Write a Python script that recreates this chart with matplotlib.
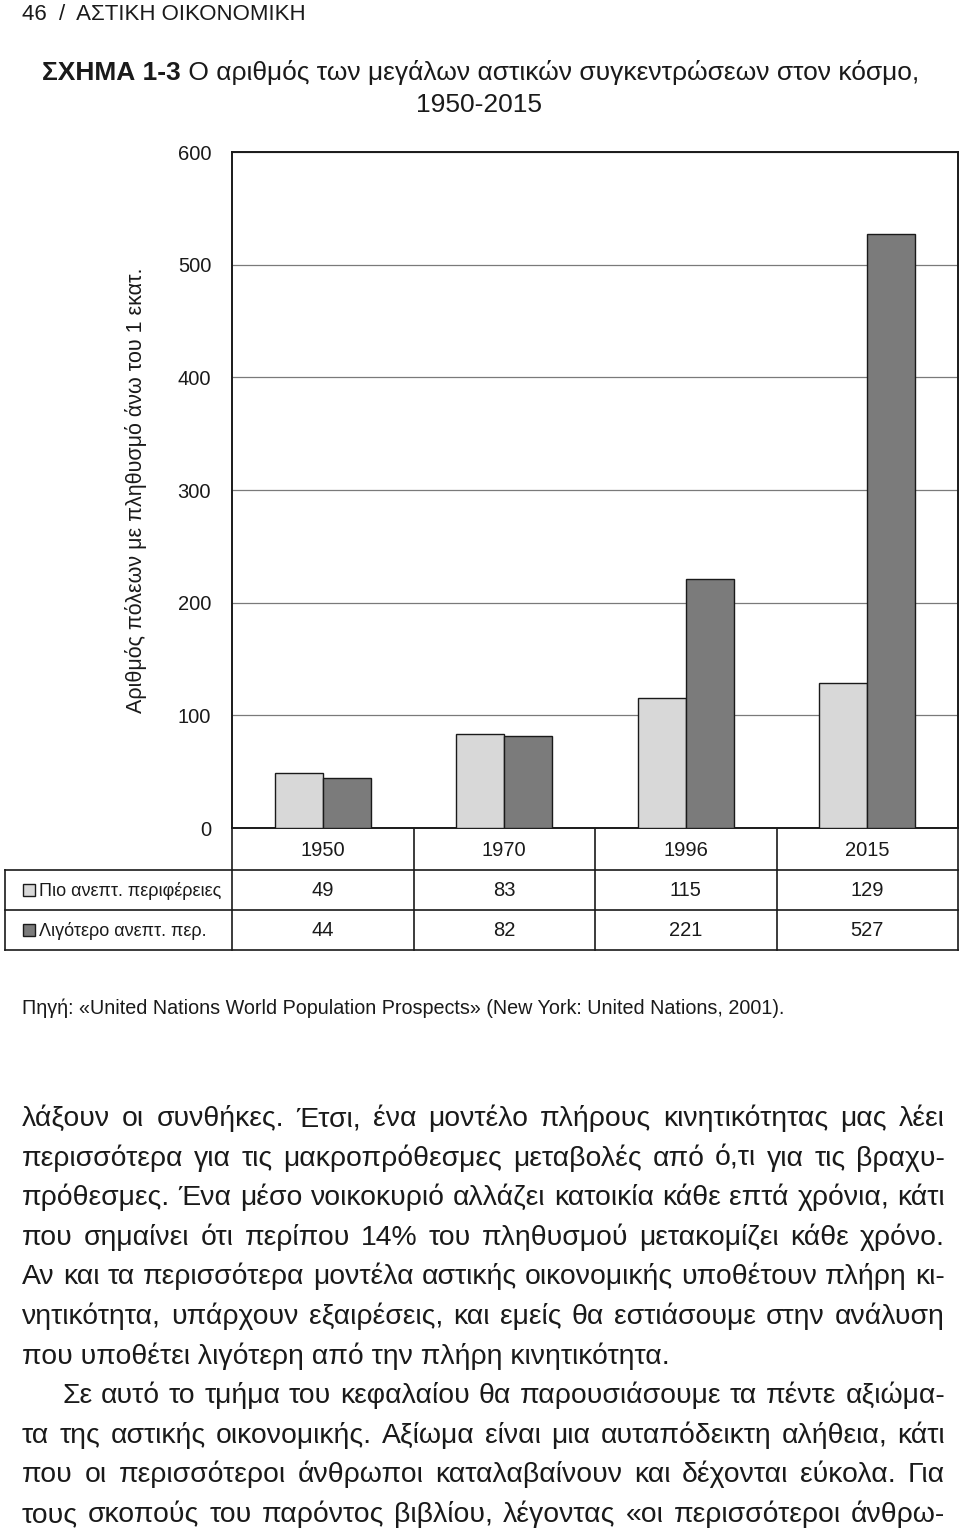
import numpy as np
import matplotlib
matplotlib.use('Agg')
import matplotlib.pyplot as plt
from matplotlib import font_manager

# --- data -------------------------------------------------------------
years = ['1950', '1970', '1996', '2015']
more_dev = [49, 83, 115, 129]      # Πιο ανεπτ. περιφέρειες
less_dev = [44, 82, 221, 527]      # Λιγότερο ανεπτ. περ.
series_names = ['Πιο ανεπτ. περιφέρειες', 'Λιγότερο ανεπτ. περ.']
yticks = [0, 100, 200, 300, 400, 500, 600]

header = '46  /  ΑΣΤΙΚΗ ΟΙΚΟΝΟΜΙΚΗ'
title_bold = 'ΣΧΗΜΑ 1-3'
title_rest = ' Ο αριθμός των μεγάλων αστικών συγκεντρώσεων στον κόσμο,'
title_line2 = '1950-2015'
ylabel = 'Αριθμός πόλεων με πληθυσμό άνω του 1 εκατ.'
source = 'Πηγή: «United Nations World Population Prospects» (New York: United Nations, 2001).'

body = [
    ('λάξουν οι συνθήκες.  Έτσι, ένα μοντέλο πλήρους κινητικότητας μας λέει', True, 0),
    ('περισσότερα για τις μακροπρόθεσμες μεταβολές από ό,τι για τις βραχυ-', True, 0),
    ('πρόθεσμες. Ένα μέσο νοικοκυριό αλλάζει κατοικία κάθε επτά χρόνια, κάτι', True, 0),
    ('που σημαίνει ότι περίπου 14% του πληθυσμού μετακομίζει κάθε χρόνο.', True, 0),
    ('Αν και τα περισσότερα μοντέλα αστικής οικονομικής υποθέτουν πλήρη κι-', True, 0),
    ('νητικότητα, υπάρχουν εξαιρέσεις, και εμείς θα εστιάσουμε στην ανάλυση', True, 0),
    ('που υποθέτει λιγότερη από την πλήρη κινητικότητα.', False, 0),
    ('Σε αυτό το τμήμα του κεφαλαίου θα παρουσιάσουμε τα πέντε αξιώμα-', True, 40),
    ('τα της αστικής οικονομικής. Αξίωμα είναι μια αυταπόδεικτη αλήθεια, κάτι', True, 0),
    ('που οι περισσότεροι άνθρωποι καταλαβαίνουν και δέχονται εύκολα. Για', True, 0),
    ('τους σκοπούς του παρόντος βιβλίου, λέγοντας «οι περισσότεροι άνθρω-', True, 0),
]

# --- fonts ------------------------------------------------------------
installed = {f.name for f in font_manager.fontManager.ttflist}
main_font = 'Liberation Sans'
narrow_font = 'Liberation Sans Narrow' if 'Liberation Sans Narrow' in installed else 'Liberation Sans'
plt.rcParams['font.family'] = [main_font, 'DejaVu Sans']

light = '#d8d8d8'
dark = '#7b7b7b'
ink = '#1a1a1a'

W, H = 960, 1532
fig = plt.figure(figsize=(W / 100, H / 100), dpi=100)
fig.patch.set_facecolor('white')

# page overlay in pixel coordinates
page = fig.add_axes([0, 0, 1, 1])
page.set_xlim(0, W)
page.set_ylim(H, 0)
page.axis('off')
r = fig.canvas.get_renderer()

# --- chart ------------------------------------------------------------
L, R, T, B = 232, 958, 152, 828
ax = fig.add_axes([L / W, 1 - B / H, (R - L) / W, (B - T) / H])
x = np.arange(len(years))
w = 0.265
ax.bar(x - w / 2, more_dev, w, color=light, edgecolor=ink, linewidth=1.0, zorder=3)
ax.bar(x + w / 2, less_dev, w, color=dark, edgecolor=ink, linewidth=1.0, zorder=3)
ax.set_xlim(-0.5, len(years) - 0.5)
ax.set_ylim(0, 600)
ax.set_yticks(yticks)
ax.set_yticklabels([str(t) for t in yticks], fontsize=14.5, color=ink)
ax.tick_params(axis='y', length=0, pad=15)
ax.set_xticks([])
ax.grid(axis='y', color='#7a7a7a', linewidth=0.9, zorder=0)
for s in ax.spines.values():
    s.set_color(ink)
    s.set_linewidth(1.4)
page.text(136, 490, ylabel, rotation=90, ha='center', va='center',
          fontsize=15.5, family=narrow_font, color=ink)

# --- data table under the chart ----------------------------------------
col_w = (R - L) / len(years)
rows_y = [B, 870, 910, 950]
lc = dict(color=ink, linewidth=1.2)
page.plot([L, L], [B, rows_y[-1]], **lc)
page.plot([R, R], [B, rows_y[-1]], **lc)
page.plot([5, 5], [rows_y[1], rows_y[-1]], **lc)
for i in range(1, len(years)):
    page.plot([L + i * col_w] * 2, [B, rows_y[-1]], **lc)
for yy in rows_y[1:]:
    page.plot([5, R], [yy, yy], **lc)
for i, yr in enumerate(years):
    cx = L + (i + 0.5) * col_w
    page.text(cx, (rows_y[0] + rows_y[1]) / 2 + 2, yr, ha='center', va='center',
              fontsize=14.5, family=narrow_font, color=ink)
    page.text(cx, (rows_y[1] + rows_y[2]) / 2 + 1, str(more_dev[i]), ha='center', va='center',
              fontsize=14.5, family=narrow_font, color=ink)
    page.text(cx, (rows_y[2] + rows_y[3]) / 2 + 1, str(less_dev[i]), ha='center', va='center',
              fontsize=14.5, family=narrow_font, color=ink)
for k, (name, col) in enumerate(zip(series_names, [light, dark])):
    cy = (rows_y[k + 1] + rows_y[k + 2]) / 2
    page.add_patch(plt.Rectangle((23, cy - 6), 12, 12, facecolor=col, edgecolor=ink, linewidth=1.0))
    page.text(39, cy + 1, name, ha='left', va='center', fontsize=13,
              family=narrow_font, color=ink)

# --- page texts -------------------------------------------------------
page.text(22, 20, header, ha='left', va='baseline', fontsize=16, color=ink)
tb = page.text(42, 80, title_bold, ha='left', va='baseline', fontsize=19,
               weight='bold', color=ink)
bw = tb.get_window_extent(r).width
page.text(42 + bw, 80, title_rest, ha='left', va='baseline', fontsize=19, color=ink)
page.text(479, 112, title_line2, ha='center', va='baseline', fontsize=19, color=ink)
page.text(22, 1014, source, ha='left', va='baseline', fontsize=14.2,
          family=narrow_font, color=ink)

x0, x1 = 22, 945
base0, step = 1126, 39.6
fs = 20.4
for n, (line, just, indent) in enumerate(body):
    yb = base0 + n * step
    if not just:
        page.text(x0 + indent, yb, line, ha='left', va='baseline', fontsize=fs, color=ink)
        continue
    words = line.split(' ')
    words = [wd for wd in words if wd]
    ts = [page.text(0, yb, wd, ha='left', va='baseline', fontsize=fs, color=ink) for wd in words]
    ws = [t.get_window_extent(r).width for t in ts]
    gap = (x1 - x0 - indent - sum(ws)) / (len(words) - 1)
    xx = x0 + indent
    for t, wd in zip(ts, ws):
        t.set_x(xx)
        xx += wd + gap

fig.savefig('out.png', dpi=100, facecolor='white')
